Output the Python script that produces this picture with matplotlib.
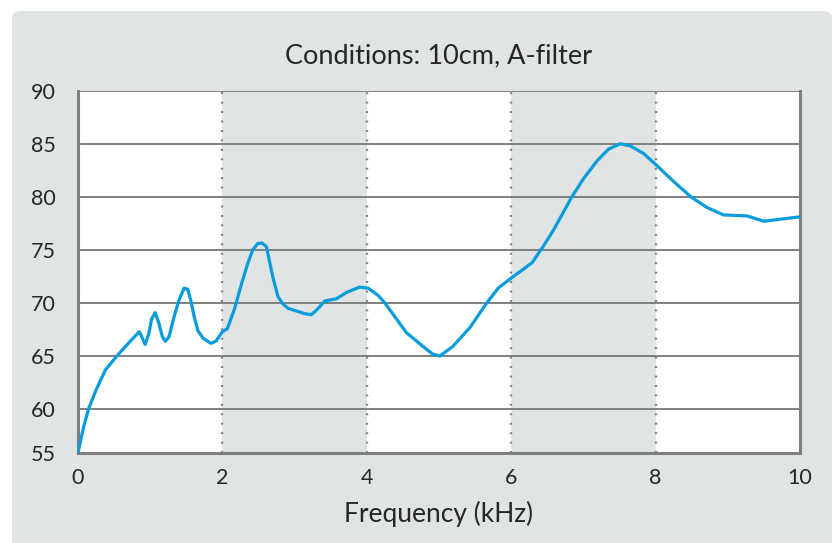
import matplotlib.pyplot as plt
from matplotlib.patches import FancyBboxPatch

# frequency (kHz) and level (dB)
freq = [0.0, 0.08, 0.15, 0.25, 0.38, 0.55, 0.71, 0.85, 0.89, 0.93,
        0.98, 1.02, 1.07, 1.12, 1.17, 1.21, 1.26, 1.33, 1.4, 1.47,
        1.52, 1.56, 1.61, 1.66, 1.73, 1.84, 1.91, 2.0, 2.07, 2.17,
        2.26, 2.35, 2.42, 2.49, 2.55, 2.61, 2.65, 2.7, 2.77, 2.84,
        2.91, 3.14, 3.23, 3.3, 3.42, 3.58, 3.72, 3.9, 4.02, 4.16,
        4.25, 4.55, 4.78, 4.91, 5.01, 5.19, 5.43, 5.66, 5.82, 6.01,
        6.29, 6.44, 6.58, 6.84, 7.0, 7.19, 7.35, 7.51, 7.65, 7.83,
        8.01, 8.21, 8.34, 8.49, 8.71, 8.94, 9.27, 9.5, 9.73, 9.98]
level = [55.9, 58.4, 60.1, 61.8, 63.7, 65.1, 66.3, 67.3, 66.7, 66.1,
         67.1, 68.5, 69.1, 68.1, 66.8, 66.4, 66.8, 68.7, 70.3, 71.4,
         71.3, 70.3, 68.7, 67.4, 66.7, 66.2, 66.4, 67.3, 67.6, 69.5,
         71.7, 73.7, 75.0, 75.6, 75.65, 75.3, 74.0, 72.4, 70.6, 69.9,
         69.5, 69.0, 68.9, 69.3, 70.2, 70.4, 71.0, 71.5, 71.4, 70.7,
         70.0, 67.2, 65.9, 65.2, 65.0, 65.9, 67.7, 70.0, 71.4, 72.4,
         73.8, 75.3, 76.8, 80.0, 81.7, 83.4, 84.5, 85.0, 84.8, 84.1,
         83.0, 81.7, 80.9, 80.0, 79.0, 78.3, 78.2, 77.7, 77.9, 78.1]

xticks = [0, 2, 4, 6, 8, 10]
yticks = [55, 60, 65, 70, 75, 80, 85, 90]
bands = [(2, 4), (6, 8)]
y_bottom = 55.9  # the drawn frame stops a little above 55, the "55" label sits on it

panel_col = '#e1e4e5'
grid_col = '#7d7f81'
line_col = '#079cdb'
text_col = '#262626'

plt.rcParams['font.family'] = ['Lato', 'DejaVu Sans']

fig = plt.figure(figsize=(8.34, 5.43), dpi=100)
# rounded grey card behind the chart
card = FancyBboxPatch((12 / 834, -0.05), 820 / 834, 1 - 11 / 543 + 0.05,
                      boxstyle='round,pad=0,rounding_size=0.012',
                      transform=fig.transFigure, facecolor=panel_col, edgecolor='none', zorder=-5)
fig.patches.append(card)

ax = fig.add_axes([78 / 834, 1 - 452.7 / 543, 722 / 834, 362 / 543])
ax.set_facecolor('white')

for a, b in bands:
    ax.axvspan(a, b, color=panel_col, lw=0, zorder=0)
for x in xticks[1:-1]:
    ax.axvline(x, color=grid_col, lw=1.7, linestyle=(0, (0.8, 3.2)), zorder=1)
for y in yticks[1:]:
    ax.axhline(y, color=grid_col, lw=1.4, zorder=1)

ax.plot(freq, level, color=line_col, lw=2.3, zorder=3, solid_capstyle='round',
        solid_joinstyle='round')

ax.set_xlim(0, 10)
ax.set_ylim(y_bottom, 90)
ax.set_xticks(xticks)
ax.set_yticks([y_bottom] + yticks[1:], [str(v) for v in yticks])
ax.tick_params(length=0, labelsize=15.5, colors=text_col)
ax.tick_params(axis='y', pad=16)
ax.tick_params(axis='x', pad=11)
for s in ['left', 'bottom', 'right']:
    ax.spines[s].set_color(grid_col)
    ax.spines[s].set_linewidth(2.2)
ax.spines['top'].set_visible(False)

ax.set_xlabel('Frequency (kHz)', fontsize=19, color=text_col, labelpad=9)
fig.text((78 + 722 / 2) / 834, 1 - 56 / 543, 'Conditions: 10cm, A-filter', ha='center',
         va='center', fontsize=19.5, color=text_col)

fig.savefig('out.png', dpi=100)
